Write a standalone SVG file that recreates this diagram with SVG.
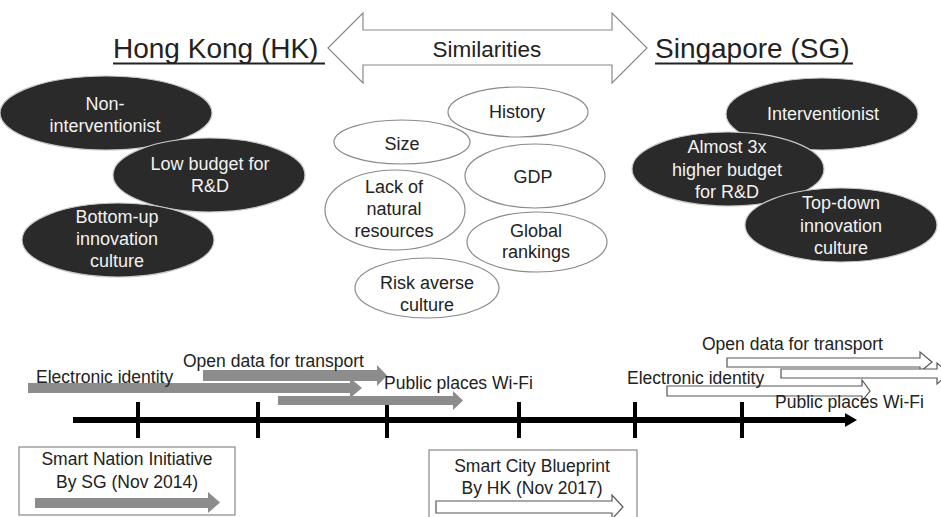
<svg xmlns="http://www.w3.org/2000/svg" width="941" height="517" viewBox="0 0 941 517">
<style>
text{font-family:"Liberation Sans",Arial,sans-serif;fill:#222;}
.t{font-size:18px;text-anchor:middle;}
.w{fill:#f2f2f2;}
.lbl{font-size:17.5px;}
.title{font-size:28px;}
.dark{fill:#2a2a2a;stroke:#c8c8c8;stroke-width:1.2;}
.sim{fill:#fff;stroke:#8a8a8a;stroke-width:1.2;}
.ga{fill:#8c8c8c;}
.wa{fill:#fff;stroke:#555;stroke-width:1.2;}
.tick{stroke:#000;stroke-width:4;}
.box{fill:#fff;stroke:#888;stroke-width:1.2;}
</style>
<rect width="941" height="517" fill="#fff"/>

<g id="hk-title">
<text class="title" x="113" y="58">Hong Kong (HK)</text>
<line x1="113" y1="63.5" x2="325" y2="63.5" stroke="#222" stroke-width="2"/>
</g>
<g id="sg-title">
<text class="title" x="655" y="58">Singapore (SG)</text>
<line x1="655" y1="63.5" x2="853" y2="63.5" stroke="#222" stroke-width="2"/>
</g>
<g id="similarities">
<polygon points="328,48 363,13 363,30 612,30 612,13 647,48 612,83 612,65 363,65 363,83" fill="#fff" stroke="#8a8a8a" stroke-width="1.2"/>
<text x="487" y="57" font-size="22.5" text-anchor="middle">Similarities</text>
</g>

<g id="hk-non-interventionist">
<ellipse class="dark" cx="106" cy="113" rx="106" ry="37"/>
<text class="t w" x="105" y="110">Non-</text>
<text class="t w" x="105" y="132">interventionist</text>
</g>
<g id="hk-low-budget">
<ellipse class="dark" cx="209" cy="175" rx="96" ry="37"/>
<text class="t w" x="210" y="170">Low budget for</text>
<text class="t w" x="210" y="192">R&amp;D</text>
</g>
<g id="hk-bottom-up">
<ellipse class="dark" cx="118" cy="240" rx="96" ry="37"/>
<text class="t w" x="117" y="223">Bottom-up</text>
<text class="t w" x="117" y="245">innovation</text>
<text class="t w" x="117" y="267">culture</text>
</g>

<g id="sim-history">
<ellipse class="sim" cx="518" cy="112" rx="70" ry="25"/>
<text class="t" x="517" y="118">History</text>
</g>
<g id="sim-size">
<ellipse class="sim" cx="402" cy="142" rx="68" ry="22"/>
<text class="t" x="402" y="150">Size</text>
</g>
<g id="sim-gdp">
<ellipse class="sim" cx="535" cy="176" rx="70" ry="32"/>
<text class="t" x="533" y="183">GDP</text>
</g>
<g id="sim-lack">
<ellipse class="sim" cx="395" cy="210" rx="70" ry="40"/>
<text class="t" x="394" y="193">Lack of</text>
<text class="t" x="394" y="215">natural</text>
<text class="t" x="394" y="237">resources</text>
</g>
<g id="sim-global">
<ellipse class="sim" cx="537" cy="242" rx="70" ry="30"/>
<text class="t" x="536" y="237">Global</text>
<text class="t" x="536" y="258">rankings</text>
</g>
<g id="sim-risk">
<ellipse class="sim" cx="427" cy="288" rx="72" ry="30"/>
<text class="t" x="427" y="289">Risk averse</text>
<text class="t" x="427" y="311">culture</text>
</g>

<g id="sg-interventionist">
<ellipse class="dark" cx="822" cy="114" rx="96" ry="36"/>
<text class="t w" x="823" y="120">Interventionist</text>
</g>
<g id="sg-budget">
<ellipse class="dark" cx="728" cy="169" rx="96" ry="37"/>
<text class="t w" x="727" y="153">Almost 3x</text>
<text class="t w" x="727" y="176">higher budget</text>
<text class="t w" x="727" y="198">for R&amp;D</text>
</g>
<g id="sg-top-down">
<ellipse class="dark" cx="841" cy="225" rx="96" ry="37"/>
<text class="t w" x="841" y="209">Top-down</text>
<text class="t w" x="841" y="232">innovation</text>
<text class="t w" x="841" y="254">culture</text>
</g>

<g id="connectors">
<g id="timeline">
<line x1="73" y1="420" x2="846" y2="420" stroke="#000" stroke-width="6"/>
<polygon points="845,413 857,420 845,427" fill="#000"/>
<line class="tick" x1="138" y1="402" x2="138" y2="438"/>
<line class="tick" x1="258" y1="402" x2="258" y2="438"/>
<line class="tick" x1="387" y1="402" x2="387" y2="438"/>
<line class="tick" x1="519" y1="402" x2="519" y2="438"/>
<line class="tick" x1="635" y1="402" x2="635" y2="438"/>
<line class="tick" x1="742" y1="402" x2="742" y2="438"/>
</g>
<g id="hk-arrows">
<polygon class="ga" points="203,370 377,370 377,365 387,375.5 377,386 377,381 203,381"/>
<polygon class="ga" points="28,383 350,383 350,378 362,388 350,398 350,393 28,393"/>
<polygon class="ga" points="278,396 453,396 453,391 463,400.5 453,410 453,405 278,405"/>
</g>
<g id="sg-arrows">
<polygon class="wa" points="727,358 920,358 920,352 932,362 920,372 920,367 727,367"/>
<polygon class="wa" points="781,369 937,369 937,363 949,373.5 937,384 937,378 781,378"/>
<polygon class="wa" points="667,386 862,386 862,380 870,391 862,401 862,396 667,396"/>
</g>
</g>

<g id="timeline-labels">
<text class="lbl" x="36" y="383">Electronic identity</text>
<text class="lbl" x="183" y="367">Open data for transport</text>
<text class="lbl" x="384" y="389">Public places Wi-Fi</text>
<text class="lbl" x="702" y="350">Open data for transport</text>
<text class="lbl" x="627" y="384">Electronic identity</text>
<text class="lbl" x="775" y="408">Public places Wi-Fi</text>
</g>

<g id="smart-nation">
<rect class="box" x="19" y="447" width="216" height="68"/>
<text class="lbl" x="127" y="465" text-anchor="middle">Smart Nation Initiative</text>
<text class="lbl" x="127" y="488" text-anchor="middle">By SG (Nov 2014)</text>
<polygon class="ga" points="35,498 208,498 208,492 220,502.5 208,513 208,508 35,508"/>
</g>
<g id="smart-city">
<rect class="box" x="429" y="450" width="208" height="80"/>
<text class="lbl" x="532" y="472" text-anchor="middle">Smart City Blueprint</text>
<text class="lbl" x="532" y="494" text-anchor="middle">By HK (Nov 2017)</text>
<polygon class="wa" points="436,501 612,501 612,495 623,507 612,519 612,513 436,513"/>
</g>
</svg>
